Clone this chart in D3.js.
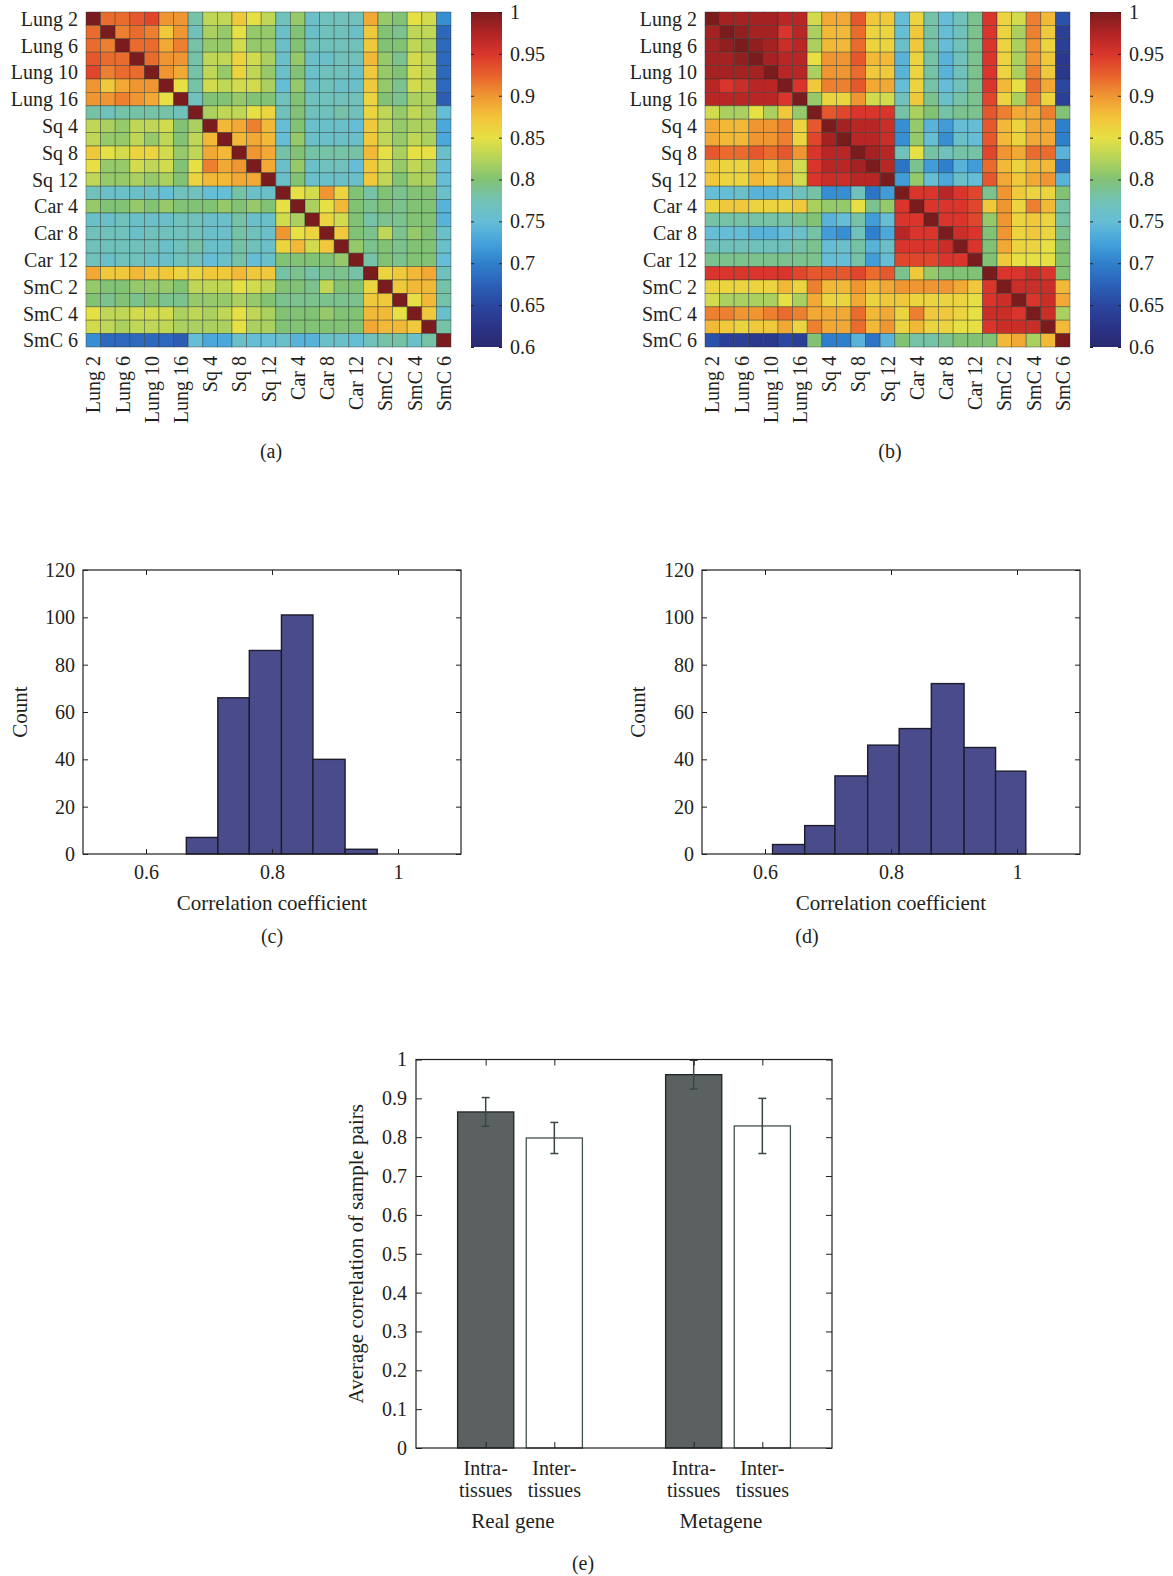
<!DOCTYPE html>
<html>
<head>
<meta charset="utf-8">
<script src="https://cdn.jsdelivr.net/npm/d3@7"></script>
<style>
  body { margin: 0; background: #fff; }
  text { font-family: "Liberation Serif", "DejaVu Serif", serif; fill: #231f20; }
</style>
</head>
<body>
<svg id="fig" width="1173" height="1576"></svg>
<script>
// samples of the two correlation maps, only every second one is labelled
const nSamples = 25;
const sampleTicks = [0, 2, 4, 6, 8, 10, 12, 14, 16, 18, 20, 22, 24];
const sampleLabels = ["Lung 2", "Lung 6", "Lung 10", "Lung 16", "Sq 4", "Sq 8", "Sq 12",
                      "Car 4", "Car 8", "Car 12", "SmC 2", "SmC 4", "SmC 6"];

// (a) real gene correlations x100, lower half read row by row (matrix is symmetric)
const realCorr = [
  [100],
  [92,100],
  [92,91,100],
  [93,92,92,100],
  [94,91,92,92,100],
  [90,87,89,90,90,100],
  [90,90,91,90,89,85,100],
  [78,77,78,78,78,78,77,100],
  [83,82,81,83,83,84,80,82,100],
  [83,81,81,83,81,83,80,83,88,100],
  [87,85,84,86,86,84,81,83,89,88,100],
  [85,81,81,84,83,84,80,85,91,89,90,100],
  [83,81,81,82,81,82,80,86,88,88,89,89,100],
  [77,76,76,76,76,75,77,77,75,75,78,76,76,100],
  [81,80,80,81,80,81,80,80,80,81,80,81,80,85,100],
  [76,76,77,76,76,76,77,77,76,76,78,76,76,84,82,100],
  [77,77,77,76,77,77,77,77,76,76,78,77,76,90,85,86,100],
  [77,77,77,77,77,76,77,78,76,76,78,77,76,86,88,84,87,100],
  [77,76,77,77,76,76,77,77,75,76,78,75,76,80,80,80,80,81,100],
  [89,87,87,88,87,87,86,86,87,87,88,87,87,78,79,78,79,79,78,100],
  [81,80,80,81,81,81,80,83,83,83,85,84,83,80,80,79,83,80,80,86,100],
  [80,79,80,79,80,79,79,81,81,81,82,81,80,79,79,79,79,79,79,87,87,100],
  [85,83,83,84,84,84,82,83,82,83,85,83,82,80,80,80,81,80,80,88,88,85,100],
  [84,83,82,83,83,83,82,82,82,82,85,82,82,80,80,80,80,80,80,89,88,88,87,100],
  [71,68,68,68,68,68,67,75,73,73,76,75,75,76,74,74,76,76,75,77,78,78,76,78,100]
];

// (b) metagene correlations x100, lower half
const metaCorr = [
  [100],
  [98,100],
  [98,99,100],
  [98,98,99,100],
  [98,98,98,98,100],
  [97,95,96,97,97,100],
  [97,97,97,97,97,95,100],
  [84,82,82,85,82,87,81,100],
  [89,88,88,90,90,91,86,93,100],
  [89,88,88,90,90,91,86,94,98,100],
  [93,92,92,93,92,93,90,95,97,97,100],
  [87,86,86,88,87,89,84,95,97,97,98,100],
  [87,86,86,88,87,89,84,95,96,96,97,97,100],
  [75,75,76,74,74,75,77,78,71,71,77,69,72,100],
  [86,87,87,86,86,86,87,82,81,81,85,79,81,95,100],
  [78,78,78,78,78,78,79,80,74,75,78,72,75,95,95,100],
  [75,75,75,74,74,75,76,78,72,71,77,70,73,97,95,95,100],
  [77,77,77,77,77,77,78,79,75,76,78,74,76,95,95,95,96,100],
  [79,79,79,79,79,79,79,79,75,75,78,72,75,94,94,94,95,95,100],
  [95,95,95,95,95,95,94,93,93,93,94,92,93,79,87,81,80,80,80,100],
  [86,86,86,86,86,88,86,91,88,88,90,88,89,90,90,90,90,89,87,95,100],
  [84,82,82,82,82,85,82,89,86,86,89,86,87,87,86,86,86,86,85,95,96,100],
  [91,91,90,90,91,92,91,89,89,89,92,88,89,86,91,87,87,86,85,96,96,95,100],
  [88,87,86,87,87,89,86,91,89,89,92,88,90,86,88,86,86,85,85,95,96,96,96,100],
  [66,64,64,63,63,65,64,80,70,70,74,69,74,80,78,78,79,80,80,80,88,89,82,88,100]
];

// colour bar ticks and jet-like colour map
const barTicks = [1, 0.95, 0.9, 0.85, 0.8, 0.75, 0.7, 0.65, 0.6];
const jetStops = [0.6, 0.625, 0.65, 0.675, 0.7, 0.725, 0.75, 0.775, 0.8, 0.825, 0.85, 0.875, 0.9, 0.925, 0.95, 0.975, 1];
const jetColors = ["#29296f", "#2a3488", "#2b47a0", "#2c62b8", "#2f80cc", "#45a3db", "#66bdd6", "#72c2b4",
                   "#82c274", "#b5d45a", "#e6e044", "#f3c23a", "#ef9632", "#e8602c", "#d9352c", "#b02424", "#7a1c1e"];

// (c) and (d) histograms of the pair correlations
const realBinEdges = [0.664, 0.714, 0.764, 0.815, 0.865, 0.916, 0.967];
const realCounts = [7, 66, 86, 101, 40, 2];
const metaBinEdges = [0.612, 0.663, 0.711, 0.763, 0.813, 0.864, 0.916, 0.966, 1.014];
const metaCounts = [4, 12, 33, 46, 53, 72, 45, 35];
const histXTicks = [0.6, 0.8, 1];
const histYTicks = [0, 20, 40, 60, 80, 100, 120];

// (e) average correlation of sample pairs
const groupNames = ["Real gene", "Metagene"];
const pairNames = [["Intra-", "tissues"], ["Inter-", "tissues"]];
const realMeans = [0.865, 0.798];
const realErr = [0.037, 0.040];
const metaMeans = [0.961, 0.829];
const metaErr = [0.037, 0.071];
const barYTicks = [0, 0.1, 0.2, 0.3, 0.4, 0.5, 0.6, 0.7, 0.8, 0.9, 1];

const svg = d3.select("#fig");
svg.append("rect").attr("width", 1173).attr("height", 1576).attr("fill", "#fff");

const color = d3.scaleLinear().domain(jetStops).range(jetColors).clamp(true);
const fmt = d3.format("~g");
const ink = "#231f20";

// gradient used by both colour bars
const grad = svg.append("defs").append("linearGradient").attr("id", "jet")
  .attr("x1", 0).attr("y1", 1).attr("x2", 0).attr("y2", 0);
grad.selectAll("stop").data(jetStops).join("stop")
  .attr("offset", d => (d - 0.6) / 0.4)
  .attr("stop-color", d => color(d));

// tidy up a d3 axis: no domain line, bigger serif labels
function styleAxis(g) {
  g.select(".domain").remove();
  g.attr("font-size", 20).attr("font-family", null);
  g.selectAll(".tick line").attr("stroke", ink).attr("stroke-width", 1);
}

// build one correlation map with its colour bar
function drawHeatmap(lower, left, caption) {
  const top = 12, w = 365, h = 335;
  const x = d3.scaleBand().domain(d3.range(nSamples)).range([left, left + w]);
  const y = d3.scaleBand().domain(d3.range(nSamples)).range([top, top + h]);
  const cells = [];
  d3.range(nSamples).forEach(i => {
    d3.range(nSamples).forEach(j => {
      const v = i >= j ? lower[i][j] : lower[j][i];
      cells.push({ i: i, j: j, v: v / 100 });
    });
  });
  const g = svg.append("g");
  g.selectAll("rect.cell").data(cells).join("rect")
    .attr("class", "cell")
    .attr("x", d => x(d.j)).attr("y", d => y(d.i))
    .attr("width", x.bandwidth()).attr("height", y.bandwidth())
    .attr("fill", d => color(d.v))
    .attr("stroke", "#24332d").attr("stroke-opacity", 0.5).attr("stroke-width", 0.8);

  // row labels
  g.selectAll("text.row").data(sampleTicks).join("text")
    .attr("class", "row")
    .attr("x", left - 8).attr("y", d => y(d) + y.bandwidth() / 2)
    .attr("dy", "0.35em").attr("text-anchor", "end").attr("font-size", 20)
    .text((d, k) => sampleLabels[k]);
  // column labels, turned upright
  g.selectAll("text.col").data(sampleTicks).join("text")
    .attr("class", "col")
    .attr("transform", d => `translate(${x(d) + x.bandwidth() / 2},${top + h + 9}) rotate(-90)`)
    .attr("dy", "0.35em").attr("text-anchor", "end").attr("font-size", 20)
    .text((d, k) => sampleLabels[k]);

  // colour bar
  const cb = d3.scaleLinear().domain([0.6, 1]).range([top + h, top]);
  const cbLeft = left + 385, cbW = 31;
  g.append("rect").attr("x", cbLeft).attr("y", top).attr("width", cbW).attr("height", h)
    .attr("fill", "url(#jet)");
  g.append("g").attr("transform", `translate(${cbLeft + cbW},0)`)
    .call(d3.axisRight(cb).tickValues(barTicks).tickSize(-3).tickPadding(8).tickFormat(fmt))
    .call(styleAxis);
  g.append("g").attr("transform", `translate(${cbLeft},0)`)
    .call(d3.axisLeft(cb).tickValues(barTicks).tickSize(-3).tickFormat(""))
    .call(styleAxis);

  g.append("text").attr("x", left + 185).attr("y", 458)
    .attr("text-anchor", "middle").attr("font-size", 20).text(caption);
}

drawHeatmap(realCorr, 86, "(a)");
drawHeatmap(metaCorr, 705, "(b)");

// histogram of correlation coefficients
function drawHist(edges, counts, left, ylabelX, caption, captionX) {
  const w = 378;
  const x = d3.scaleLinear().domain([0.5, 1.1]).range([left, left + w]);
  const y = d3.scaleLinear().domain([0, 120]).range([854, 570]);
  const g = svg.append("g");

  g.selectAll("rect.bin").data(counts).join("rect")
    .attr("class", "bin")
    .attr("x", (d, i) => x(edges[i]))
    .attr("width", (d, i) => x(edges[i + 1]) - x(edges[i]))
    .attr("y", d => y(d)).attr("height", d => y(0) - y(d))
    .attr("fill", "#4a4b8b").attr("stroke", "#1c1c2c").attr("stroke-width", 1.4);

  g.append("g").attr("transform", `translate(0,${y(0)})`)
    .call(d3.axisBottom(x).tickValues(histXTicks).tickSize(-5).tickPadding(11).tickFormat(fmt))
    .call(styleAxis);
  g.append("g").attr("transform", `translate(0,${y(120)})`)
    .call(d3.axisTop(x).tickValues(histXTicks).tickSize(-5).tickFormat(""))
    .call(styleAxis);
  g.append("g").attr("transform", `translate(${left},0)`)
    .call(d3.axisLeft(y).tickValues(histYTicks).tickSize(-5).tickPadding(8))
    .call(styleAxis);
  g.append("g").attr("transform", `translate(${left + w},0)`)
    .call(d3.axisRight(y).tickValues(histYTicks).tickSize(-5).tickFormat(""))
    .call(styleAxis);

  g.append("rect").attr("x", left).attr("y", y(120)).attr("width", w).attr("height", y(0) - y(120))
    .attr("fill", "none").attr("stroke", ink).attr("stroke-width", 1.2);

  g.append("text").attr("transform", `translate(${ylabelX},${(y(0) + y(120)) / 2}) rotate(-90)`)
    .attr("dy", "0.35em").attr("text-anchor", "middle").attr("font-size", 21).text("Count");
  g.append("text").attr("x", left + w / 2).attr("y", 910)
    .attr("text-anchor", "middle").attr("font-size", 21).text("Correlation coefficient");
  g.append("text").attr("x", captionX).attr("y", 943)
    .attr("text-anchor", "middle").attr("font-size", 20).text(caption);
}

drawHist(realBinEdges, realCounts, 83, 20, "(c)", 272);
drawHist(metaBinEdges, metaCounts, 702, 638, "(d)", 807);

// grouped bar chart with error bars
const bars = [];
[[realMeans, realErr], [metaMeans, metaErr]].forEach((s, gi) => {
  s[0].forEach((m, k) => bars.push({ group: gi, kind: k, mean: m, err: s[1][k] }));
});

const bx = d3.scaleLinear().domain([0.5, 2.5]).range([416, 832]);
const by = d3.scaleLinear().domain([0, 1]).range([1448, 1059.5]);
const barW = bx(0.27) - bx(0);
const barCenter = d => bx(d.group + 1 + (d.kind === 0 ? -0.165 : 0.165));

const ge = svg.append("g");
ge.selectAll("rect.bar").data(bars).join("rect")
  .attr("class", "bar")
  .attr("x", d => barCenter(d) - barW / 2).attr("width", barW)
  .attr("y", d => by(d.mean)).attr("height", d => by(0) - by(d.mean))
  .attr("fill", d => d.kind === 0 ? "#5b6161" : "#fff")
  .attr("stroke", d => d.kind === 0 ? "#1f2424" : "#44504f").attr("stroke-width", 1.3);

// error bars
const errG = ge.selectAll("g.err").data(bars).join("g").attr("class", "err")
  .attr("stroke", "#3a4747").attr("stroke-width", 1.5);
errG.append("line")
  .attr("x1", barCenter).attr("x2", barCenter)
  .attr("y1", d => by(d.mean + d.err)).attr("y2", d => by(d.mean - d.err));
errG.append("line")
  .attr("x1", d => barCenter(d) - 4).attr("x2", d => barCenter(d) + 4)
  .attr("y1", d => by(d.mean + d.err)).attr("y2", d => by(d.mean + d.err));
errG.append("line")
  .attr("x1", d => barCenter(d) - 4).attr("x2", d => barCenter(d) + 4)
  .attr("y1", d => by(d.mean - d.err)).attr("y2", d => by(d.mean - d.err));

const barTickVals = bars.map(d => bx.invert(barCenter(d)));
ge.append("g").attr("transform", `translate(0,${by(0)})`)
  .call(d3.axisBottom(bx).tickValues(barTickVals).tickSize(-6).tickFormat(""))
  .call(styleAxis);
ge.append("g").attr("transform", `translate(0,${by(1)})`)
  .call(d3.axisTop(bx).tickValues(barTickVals).tickSize(-6).tickFormat(""))
  .call(styleAxis);
ge.append("g").attr("transform", `translate(${bx(0.5)},0)`)
  .call(d3.axisLeft(by).tickValues(barYTicks).tickSize(-6).tickPadding(9).tickFormat(fmt))
  .call(styleAxis);
ge.append("g").attr("transform", `translate(${bx(2.5)},0)`)
  .call(d3.axisRight(by).tickValues(barYTicks).tickSize(-6).tickFormat(""))
  .call(styleAxis);

ge.append("rect").attr("x", bx(0.5)).attr("y", by(1)).attr("width", bx(2.5) - bx(0.5)).attr("height", by(0) - by(1))
  .attr("fill", "none").attr("stroke", ink).attr("stroke-width", 1.2);

// two line category labels under each bar
ge.selectAll("text.pair").data(bars).join("text")
  .attr("class", "pair").attr("text-anchor", "middle").attr("font-size", 20)
  .each(function (d) {
    const t = d3.select(this);
    t.append("tspan").attr("x", barCenter(d)).attr("y", 1475).text(pairNames[d.kind][0]);
    t.append("tspan").attr("x", barCenter(d)).attr("y", 1497).text(pairNames[d.kind][1]);
  });
ge.selectAll("text.group").data(groupNames).join("text")
  .attr("class", "group").attr("text-anchor", "middle").attr("font-size", 21)
  .attr("x", (d, i) => bx(i + 1) - 7).attr("y", 1528).text(d => d);

ge.append("text").attr("transform", `translate(356,${(by(0) + by(1)) / 2}) rotate(-90)`)
  .attr("dy", "0.35em").attr("text-anchor", "middle").attr("font-size", 21)
  .text("Average correlation of sample pairs");
ge.append("text").attr("x", 583).attr("y", 1570)
  .attr("text-anchor", "middle").attr("font-size", 20).text("(e)");
</script>
</body>
</html>
